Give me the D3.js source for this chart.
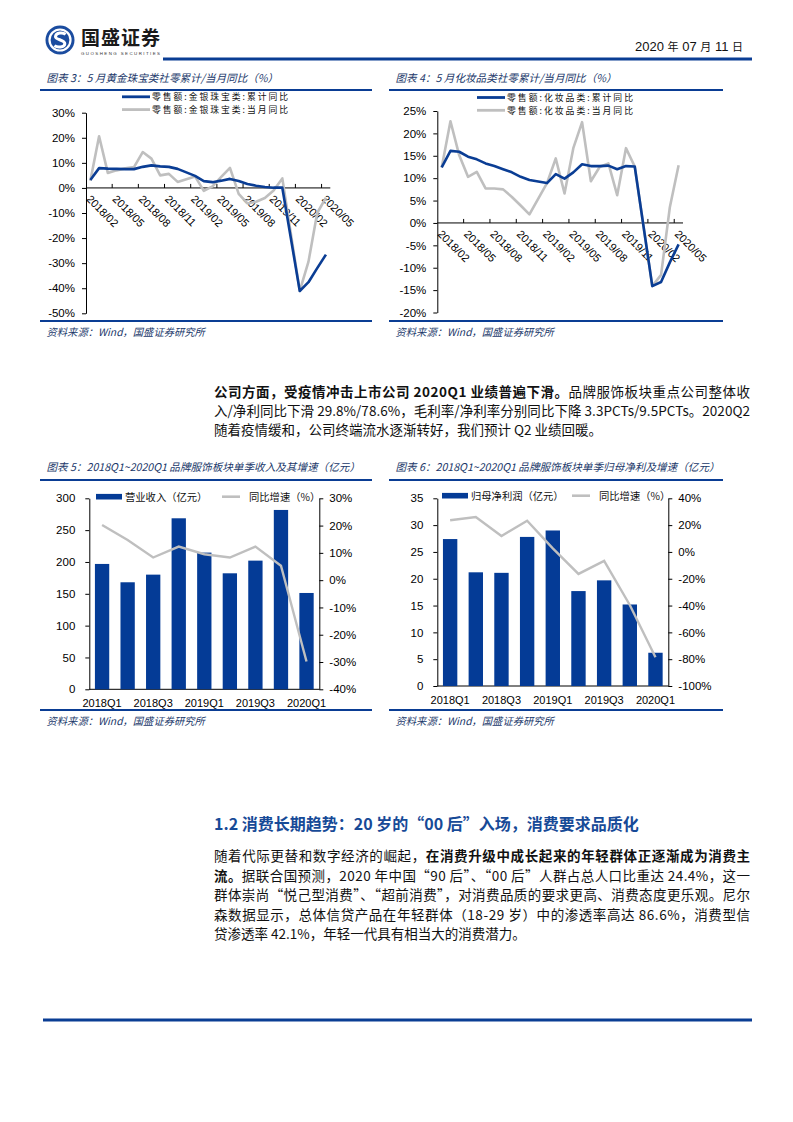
<!DOCTYPE html>
<html><head><meta charset="utf-8">
<script src="https://cdn.jsdelivr.net/npm/d3@7"></script>
<style>body{margin:0;background:#fff}svg{display:block}</style>
</head><body>
<svg id="page" width="793" height="1122"></svg>
<script>
// ---------- data ----------
const months = ["2018/02","2018/03","2018/04","2018/05","2018/06","2018/07","2018/08","2018/09","2018/10","2018/11","2018/12",
  "2019/01","2019/02","2019/03","2019/04","2019/05","2019/06","2019/07","2019/08","2019/09","2019/10","2019/11","2019/12",
  "2020/01","2020/02","2020/03","2020/04","2020/05"];
const monthTickLabels = ["2018/02","2018/05","2018/08","2018/11","2019/02","2019/05","2019/08","2019/11","2020/02","2020/05"];
const jewelryCum = [3.2,7.9,7.7,7.6,7.5,7.5,8.4,9.0,8.6,8.4,7.6,null,4.8,2.7,2.3,2.9,3.6,2.8,1.6,0.9,0.4,0.1,0.1,null,-41.1,-37.6,-32.0,-26.6];
const jewelryMon = [2.9,20.6,6.0,7.0,7.8,8.3,14.3,11.7,5.0,5.6,2.4,null,4.6,-1.2,0.6,4.4,8.0,-2.4,-6.2,-5.5,-4.0,-1.0,3.8,null,-41.1,-29.4,-10.0,-3.9];
const cosmeticsCum = [12.4,16.1,15.9,14.8,14.2,13.3,12.7,12.0,11.3,10.3,9.6,null,8.9,10.9,9.9,11.3,13.1,12.7,12.7,12.8,12.0,12.7,12.6,null,-14.1,-13.2,-8.8,-4.8];
const cosmeticsMon = [12.4,22.7,15.1,10.3,11.4,7.7,7.7,7.5,5.8,3.9,1.9,null,8.9,14.4,6.6,16.7,22.5,9.3,12.5,13.3,6.2,16.7,12.6,null,-14.1,-11.6,3.5,12.9];
const jewelryTicks = [30,20,10,0,-10,-20,-30,-40,-50];
const cosmeticsTicks = [25,20,15,10,5,0,-5,-10,-15,-20];
const jewelryLegend = ["零售额:金银珠宝类:累计同比","零售额:金银珠宝类:当月同比"];
const cosmeticsLegend = ["零售额:化妆品类:累计同比","零售额:化妆品类:当月同比"];

const quarters = ["2018Q1","2018Q2","2018Q3","2018Q4","2019Q1","2019Q2","2019Q3","2019Q4","2020Q1"];
const quarterTickLabels = ["2018Q1","2018Q3","2019Q1","2019Q3","2020Q1"];
const revenue = [196.9,168.1,180.1,268.6,214.7,182.2,202.1,281.7,151.3];
const revenueYoY = [20.2,14.7,8.3,12.3,9.5,8.3,12.3,5.3,-29.8];
const netProfit = [27.4,21.2,21.1,27.8,29.0,17.7,19.7,15.2,6.2];
const netProfitYoY = [23.6,26.1,11.9,23.3,2.7,-16.4,-6.7,-39.6,-78.6];
const revenueTicks = [0,50,100,150,200,250,300];
const revenueYoYTicks = [30,20,10,0,-10,-20,-30,-40];
const profitTicks = [0,5,10,15,20,25,30,35];
const profitYoYTicks = [40,20,0,-20,-40,-60,-80,-100];

// ---------- style ----------
const BLUE = "#0a3d94", BAR = "#043b96", GRAY = "#bfbfbf", NAVY = "#21386a";
const CJK = "'Noto Sans CJK SC', 'Noto Sans', sans-serif";
const NUM = "'Liberation Sans', Arial, sans-serif";
const svg = d3.select("#page");
svg.append("rect").attr("width",793).attr("height",1122).attr("fill","#fff");

// ---------- header ----------
const logo = svg.append("g");
logo.append("circle").attr("cx",60).attr("cy",40).attr("r",14.5).attr("fill","#1b4c9f");
logo.append("circle").attr("cx",60).attr("cy",40).attr("r",10.5).attr("fill","none").attr("stroke","#fff").attr("stroke-width",2.2);
logo.append("path").attr("d","M65.5,34.5 C63,32 56,32.5 55.5,36.5 C55,40 65,39.5 64.8,43.8 C64.5,47.5 57,48 54.5,45.5")
  .attr("fill","none").attr("stroke","#fff").attr("stroke-width",3);
svg.append("text").attr("x",81).attr("y",44.5).attr("font-family",CJK).attr("font-weight",700)
  .attr("font-size",19).attr("fill","#1a1a1a").attr("textLength",79).attr("lengthAdjust","spacing").text("国盛证券");
svg.append("text").attr("x",81).attr("y",54.5).attr("font-family",NUM).attr("font-size",4.4)
  .attr("fill","#333").attr("textLength",79).attr("lengthAdjust","spacing").text("GUOSHENG SECURITIES");
svg.append("line").attr("x1",163).attr("x2",752).attr("y1",59).attr("y2",59).attr("stroke",BLUE).attr("stroke-width",3);
const date = svg.append("text").attr("x",743).attr("y",51).attr("text-anchor","end").attr("fill","#111");
[["2020 ",NUM,13],["年",CJK,11],[" 07 ",NUM,13],["月",CJK,11],[" 11 ",NUM,13],["日",CJK,11]].forEach(([t,f,s])=>
  date.append("tspan").attr("font-family",f).attr("font-size",s).text(t));

// ---------- chart frame (title, rules, source) ----------
function frame(x0, x1, titleY, ruleY, bottomY, title) {
  svg.append("text").attr("x",x0+6.5).attr("y",titleY).attr("font-family",CJK).attr("font-style","italic")
    .attr("font-size",10.6).attr("fill",NAVY).text(title);
  svg.append("line").attr("x1",x0).attr("x2",x1).attr("y1",ruleY).attr("y2",ruleY).attr("stroke",BLUE).attr("stroke-width",2);
  svg.append("line").attr("x1",x0).attr("x2",x1).attr("y1",bottomY).attr("y2",bottomY).attr("stroke",BLUE).attr("stroke-width",2);
  svg.append("text").attr("x",x0+6.5).attr("y",bottomY+15).attr("font-family",CJK).attr("font-style","italic")
    .attr("font-size",10.3).attr("fill",NAVY).text("资料来源：Wind，国盛证券研究所");
}

// ---------- line chart ----------
function lineChart(c) {
  const g = svg.append("g");
  const x = d3.scaleBand().domain(months).range([c.x0, c.x1]);
  const bw = x.bandwidth();
  const y = d3.scaleLinear().domain(c.domain).range([c.yb, c.yt]);
  const ya = g.append("g").attr("transform",`translate(${c.x0},0)`)
    .call(d3.axisLeft(y).tickValues(c.ticks).tickFormat(d=>d+"%").tickSize(4).tickSizeOuter(0).tickPadding(7));
  ya.select(".domain").attr("stroke","#000");
  ya.selectAll("text").attr("font-family",NUM).attr("font-size",11.5).attr("fill","#000");
  g.append("line").attr("x1",c.x0).attr("x2",c.x1).attr("y1",y(0)).attr("y2",y(0)).attr("stroke","#000");
  months.forEach((m,i)=>{ if(i>0 && i%3===0) g.append("line").attr("x1",x(m)).attr("x2",x(m))
    .attr("y1",y(0)-4).attr("y2",y(0)).attr("stroke","#000"); });
  monthTickLabels.forEach(m=>{
    g.append("text").attr("transform",`translate(${x(m)+bw/2-2},${y(0)+9}) rotate(45)`)
      .attr("font-family",NUM).attr("font-size",11).attr("dy","0.35em").attr("fill","#000").text(m);
  });
  const line = d3.line().x(d=>x(d.m)+bw/2).y(d=>y(d.v));
  const pts = arr => months.map((m,i)=>({m, v:arr[i]})).filter(d=>d.v!==null);
  g.append("path").attr("d",line(pts(c.mon))).attr("fill","none").attr("stroke",GRAY).attr("stroke-width",2.6).attr("stroke-linejoin","round");
  g.append("path").attr("d",line(pts(c.cum))).attr("fill","none").attr("stroke",BLUE).attr("stroke-width",2.6).attr("stroke-linejoin","round");
  [[BLUE,c.legend[0],c.ly],[GRAY,c.legend[1],c.ly+12.8]].forEach(([col,t,yy])=>{
    g.append("line").attr("x1",c.lx).attr("x2",c.lx+28).attr("y1",yy).attr("y2",yy).attr("stroke",col).attr("stroke-width",2.8);
    g.append("text").attr("x",c.lx+30).attr("y",yy+3.2).attr("font-family",CJK).attr("font-size",8.8)
      .attr("fill","#111").attr("textLength",c.lw).attr("lengthAdjust","spacing").text(t);
  });
}

// ---------- bar + line chart ----------
function barChart(c) {
  const g = svg.append("g");
  const x = d3.scaleBand().domain(quarters).range([c.x0, c.x1]).paddingInner(0.44).paddingOuter(0.22);
  const yl = d3.scaleLinear().domain(c.ldom).range([c.yb, c.yt]);
  const yr = d3.scaleLinear().domain(c.rdom).range([c.yb, c.yt]);
  const la = g.append("g").attr("transform",`translate(${c.x0},0)`)
    .call(d3.axisLeft(yl).tickValues(c.lticks).tickSize(4).tickSizeOuter(0).tickPadding(10));
  const ra = g.append("g").attr("transform",`translate(${c.x1},0)`)
    .call(d3.axisRight(yr).tickValues(c.rticks).tickFormat(d=>d+"%").tickSize(4).tickSizeOuter(0).tickPadding(6));
  [la,ra].forEach(a=>{ a.select(".domain").attr("stroke","#000");
    a.selectAll("text").attr("font-family",NUM).attr("font-size",11.5).attr("fill","#000"); });
  g.append("line").attr("x1",c.x0).attr("x2",c.x1).attr("y1",c.yb).attr("y2",c.yb).attr("stroke","#000");
  g.selectAll(".bar").data(c.bars).enter().append("rect")
    .attr("x",(d,i)=>x(quarters[i])).attr("width",x.bandwidth())
    .attr("y",d=>yl(d)).attr("height",d=>c.yb-yl(d)).attr("fill",BAR);
  const line = d3.line().x((d,i)=>x(quarters[i])+x.bandwidth()/2).y(d=>yr(d));
  g.append("path").attr("d",line(c.yoy)).attr("fill","none").attr("stroke",GRAY).attr("stroke-width",2.4);
  quarterTickLabels.forEach(q=>{
    g.append("text").attr("x",x(q)+x.bandwidth()/2).attr("y",c.yb+18).attr("text-anchor","middle")
      .attr("font-family",NUM).attr("font-size",11).attr("fill","#000").text(q);
  });
  g.append("rect").attr("x",c.lx).attr("y",c.ly-2.8).attr("width",26).attr("height",5.6).attr("fill",BAR);
  g.append("text").attr("x",c.lx+29).attr("y",c.ly+3.8).attr("font-family",CJK).attr("font-size",10.3).attr("fill","#111").text(c.legend[0]);
  g.append("line").attr("x1",c.lx2).attr("x2",c.lx2+18).attr("y1",c.ly).attr("y2",c.ly).attr("stroke",GRAY).attr("stroke-width",2.6);
  g.append("text").attr("x",c.lx2+27).attr("y",c.ly+3.8).attr("font-family",CJK).attr("font-size",10.3).attr("fill","#111").text(c.legend[1]);
}

frame(40,372,82,90,321,"图表 3：5 月黄金珠宝类社零累计/当月同比（%）");
frame(389,723,82,90,321,"图表 4：5 月化妆品类社零累计/当月同比（%）");
lineChart({x0:86,x1:330.3,yb:313.3,yt:112.7,domain:[-50,30],ticks:jewelryTicks,cum:jewelryCum,mon:jewelryMon,
  legend:jewelryLegend,lx:122,ly:96.8,lw:136});
lineChart({x0:437.3,x1:683,yb:312.5,yt:111,domain:[-20,25],ticks:cosmeticsTicks,cum:cosmeticsCum,mon:cosmeticsMon,
  legend:cosmeticsLegend,lx:477,ly:97.5,lw:126});

frame(40,372,471,480,710,"图表 5：2018Q1~2020Q1 品牌服饰板块单季收入及其增速（亿元）");
frame(389,723,471,480,710,"图表 6：2018Q1~2020Q1 品牌服饰板块单季归母净利及增速（亿元）");
barChart({x0:89.3,x1:319.3,yb:689.3,yt:498.3,ldom:[0,300],rdom:[-40,30],lticks:revenueTicks,rticks:revenueYoYTicks,
  bars:revenue,yoy:revenueYoY,legend:["营业收入（亿元）","同比增速（%）"],lx:96,lx2:222,ly:496.7});
barChart({x0:437.3,x1:668.3,yb:686,yt:498.3,ldom:[0,35],rdom:[-100,40],lticks:profitTicks,rticks:profitYoYTicks,
  bars:netProfit,yoy:netProfitYoY,legend:["归母净利润（亿元）","同比增速（%）"],lx:442,lx2:572,ly:495.7});

// ---------- body text ----------
function para(lines, x, y0, lh, width, size) {
  lines.forEach((segs,i)=>{
    const t = svg.append("text").attr("x",x).attr("y",y0+i*lh).attr("font-family",CJK).attr("font-size",size).attr("fill","#111");
    segs.forEach(s=>t.append("tspan").attr("font-weight",s.b?700:400).text(s.t));
    if(i<lines.length-1) t.attr("textLength",width).attr("lengthAdjust","spacing");
  });
}
para([
  [{t:"公司方面，受疫情冲击上市公司 2020Q1 业绩普遍下滑。",b:1},{t:"品牌服饰板块重点公司整体收"}],
  [{t:"入/净利同比下滑 29.8%/78.6%，毛利率/净利率分别同比下降 3.3PCTs/9.5PCTs。2020Q2"}],
  [{t:"随着疫情缓和，公司终端流水逐渐转好，我们预计 Q2 业绩回暖。"}]
], 214, 397, 19, 536, 13.5);

svg.append("text").attr("x",214).attr("y",830).attr("font-family",CJK).attr("font-weight",700).attr("font-size",16)
  .attr("fill","#174a97").text("1.2 消费长期趋势：20 岁的“00 后”入场，消费要求品质化");

para([
  [{t:"随着代际更替和数字经济的崛起，"},{t:"在消费升级中成长起来的年轻群体正逐渐成为消费主",b:1}],
  [{t:"流。",b:1},{t:"据联合国预测，2020 年中国“90 后”、“00 后”人群占总人口比重达 24.4%，这一"}],
  [{t:"群体崇尚“悦己型消费”、“超前消费”，对消费品质的要求更高、消费态度更乐观。尼尔"}],
  [{t:"森数据显示，总体信贷产品在年轻群体（18-29 岁）中的渗透率高达 86.6%，消费型信"}],
  [{t:"贷渗透率 42.1%，年轻一代具有相当大的消费潜力。"}]
], 214, 861, 19.5, 536, 13.5);

svg.append("line").attr("x1",43).attr("x2",752).attr("y1",1020).attr("y2",1020).attr("stroke",BLUE).attr("stroke-width",3);
</script>
</body></html>
